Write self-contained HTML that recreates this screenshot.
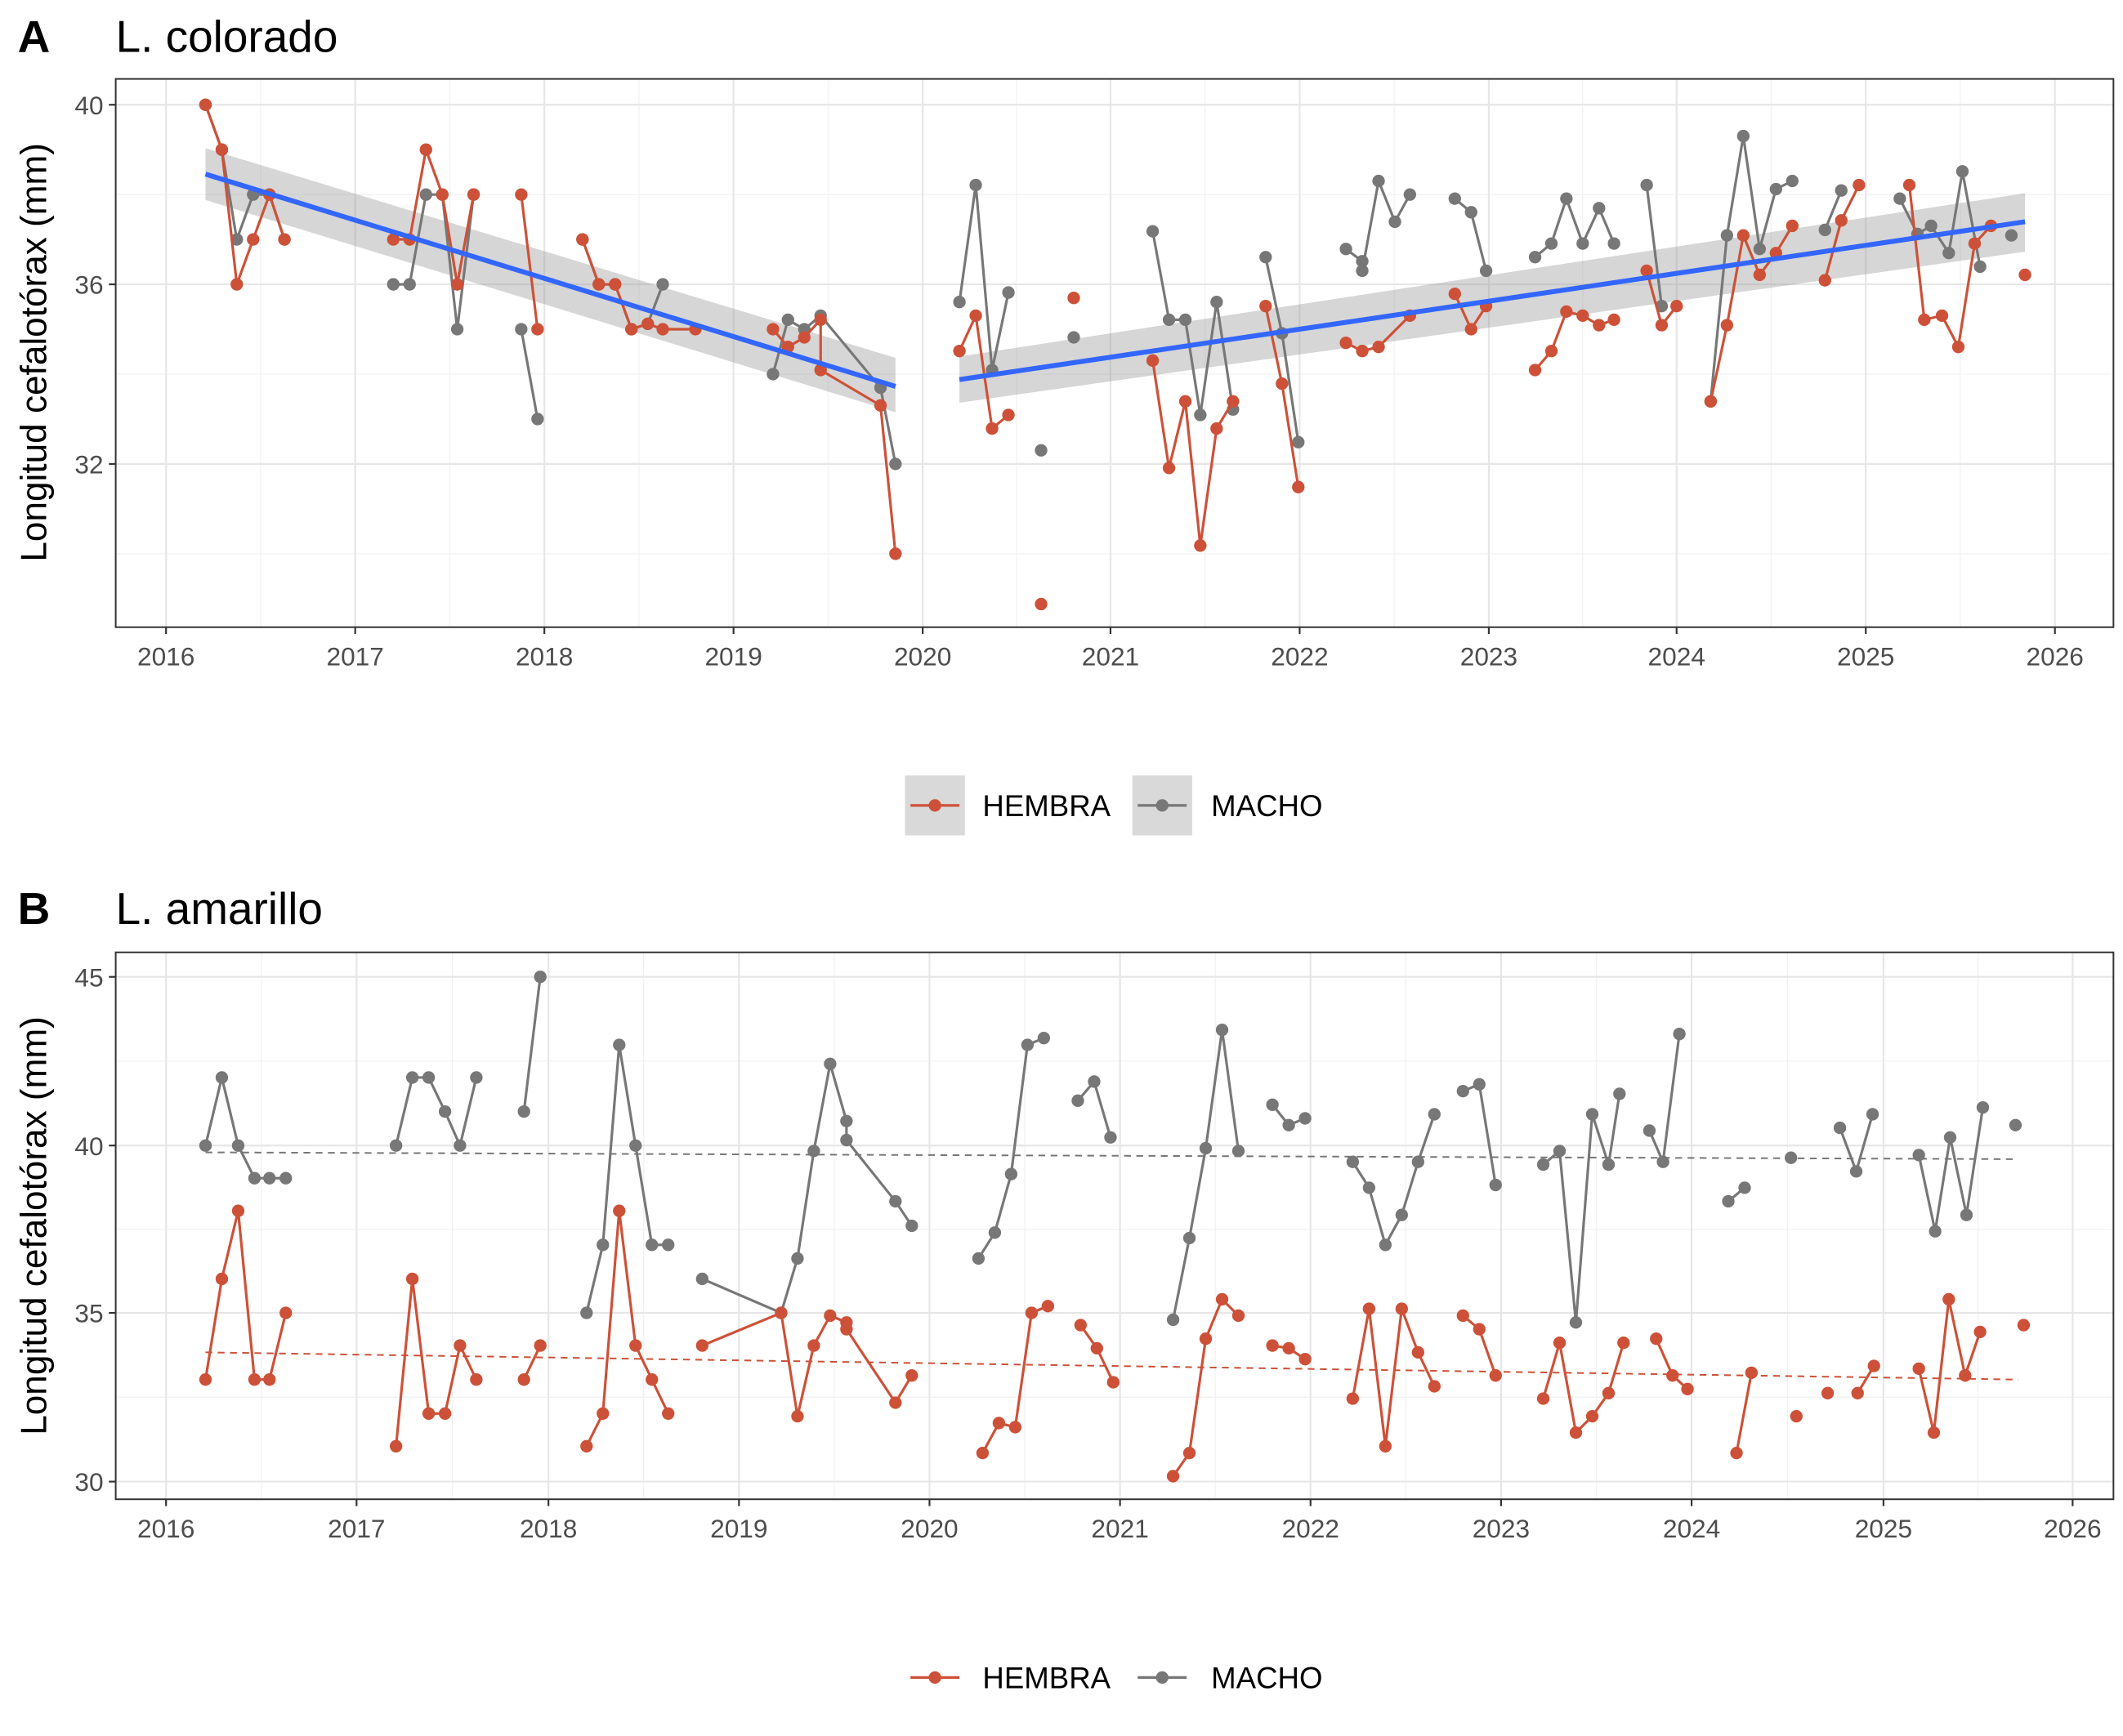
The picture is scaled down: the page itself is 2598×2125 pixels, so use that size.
<!DOCTYPE html>
<html><head><meta charset="utf-8"><style>
html,body{margin:0;padding:0;background:#fff}
svg{display:block}
text{font-family:"Liberation Sans",Arial,sans-serif}
</style></head><body>
<svg width="2598" height="2125" viewBox="0 0 1560 1276" xmlns="http://www.w3.org/2000/svg">
<defs>
<marker id="mr" viewBox="-5 -5 10 10" markerWidth="10" markerHeight="10" markerUnits="userSpaceOnUse" refX="0" refY="0"><circle r="4.6" fill="#cd5138"/></marker>
<marker id="mg" viewBox="-5 -5 10 10" markerWidth="10" markerHeight="10" markerUnits="userSpaceOnUse" refX="0" refY="0"><circle r="4.6" fill="#777"/></marker>
</defs>
<style>
.r{fill:none;stroke:#cd5138;stroke-width:1.9;marker-start:url(#mr);marker-mid:url(#mr);marker-end:url(#mr)}
.g{fill:none;stroke:#777;stroke-width:1.9;marker-start:url(#mg);marker-mid:url(#mg);marker-end:url(#mg)}
.mj{stroke:#e6e6e6;stroke-width:1.3}
.mn{stroke:#f2f2f2;stroke-width:0.8}
.tk{font-size:19px;fill:#4d4d4d}
</style>

<!-- ================= PANEL A ================= -->
<text x="13" y="38" font-size="33" font-weight="bold">A</text>
<text x="85" y="38" font-size="33">L. colorado</text>
<g>
<rect x="85" y="58" width="1468" height="403" fill="#fff"/>
<g class="mn">
<line x1="85" x2="1553" y1="143" y2="143"/><line x1="85" x2="1553" y1="275" y2="275"/><line x1="85" x2="1553" y1="407" y2="407"/>
<line y1="58" y2="461" x1="191.5" x2="191.5"/><line y1="58" y2="461" x1="330.5" x2="330.5"/><line y1="58" y2="461" x1="469.5" x2="469.5"/><line y1="58" y2="461" x1="608.5" x2="608.5"/><line y1="58" y2="461" x1="747" x2="747"/><line y1="58" y2="461" x1="885.5" x2="885.5"/><line y1="58" y2="461" x1="1024.5" x2="1024.5"/><line y1="58" y2="461" x1="1163" x2="1163"/><line y1="58" y2="461" x1="1301.5" x2="1301.5"/><line y1="58" y2="461" x1="1440.5" x2="1440.5"/>
</g>
<g class="mj">
<line x1="85" x2="1553" y1="77" y2="77"/><line x1="85" x2="1553" y1="209" y2="209"/><line x1="85" x2="1553" y1="341" y2="341"/>
<line y1="58" y2="461" x1="122" x2="122"/><line y1="58" y2="461" x1="261" x2="261"/><line y1="58" y2="461" x1="400" x2="400"/><line y1="58" y2="461" x1="539" x2="539"/><line y1="58" y2="461" x1="678" x2="678"/><line y1="58" y2="461" x1="816" x2="816"/><line y1="58" y2="461" x1="955" x2="955"/><line y1="58" y2="461" x1="1094" x2="1094"/><line y1="58" y2="461" x1="1232" x2="1232"/><line y1="58" y2="461" x1="1371" x2="1371"/><line y1="58" y2="461" x1="1510" x2="1510"/>
</g>
<polygon points="151,109 658,263 658,303 151,147" fill="#999" fill-opacity="0.4"/>
<polygon points="705,262 1488,142 1488,185 705,296" fill="#999" fill-opacity="0.4"/>
<polyline class="g" points="151,77 163,110 174,176 186,143 198,143 209,176"/>
<polyline class="g" points="289,209 301,209 313,143 325,143 336,242 348,143"/>
<polyline class="g" points="383,242 395,308"/>
<polyline class="g" points="428,176 440,209 452,209 464,242 476,238 487,209"/>
<polyline class="g" points="568,275 579,235 591,242 603,232 647,285 658,341"/>
<polyline class="g" points="705,222 717,136 729,272 741,215"/>
<circle cx="765" cy="331" r="4.6" fill="#777"/><circle cx="789" cy="248" r="4.6" fill="#777"/>
<polyline class="g" points="847,170 859,235 871,235 882,305 894,222 906,301"/>
<polyline class="g" points="930,189 942,245 954,325"/>
<polyline class="g" points="989,183 1001,192 1001,199 1013,133 1025,163 1036,143"/>
<polyline class="g" points="1069,146 1081,156 1092,199"/>
<polyline class="g" points="1128,189 1140,179 1151,146 1163,179 1175,153 1186,179"/>
<polyline class="g" points="1210,136 1221,225"/>
<polyline class="g" points="1257,295 1269,173 1281,100 1293,183 1305,139 1317,133"/>
<polyline class="g" points="1341,169 1353,140"/>
<polyline class="g" points="1396,146 1409,172 1419,166 1432,186 1442,126 1455,196"/>
<circle cx="1478" cy="173" r="4.6" fill="#777"/>
<polyline class="r" points="151,77 163,110 174,209 186,176 198,143 209,176"/>
<polyline class="r" points="289,176 301,176 313,110 325,143 336,209 348,143"/>
<polyline class="r" points="383,143 395,242"/>
<polyline class="r" points="428,176 440,209 452,209 464,242 476,238 487,242 511,242"/>
<polyline class="r" points="568,242 579,255 591,248 603,235 603,272 647,298 658,407"/>
<polyline class="r" points="705,258 717,232 729,315 741,305"/>
<circle cx="765" cy="444" r="4.6" fill="#cd5138"/><circle cx="789" cy="219" r="4.6" fill="#cd5138"/>
<polyline class="r" points="847,265 859,344 871,295 882,401 894,315 906,295"/>
<polyline class="r" points="930,225 942,282 954,358"/>
<polyline class="r" points="989,252 1001,258 1013,255 1036,232"/>
<polyline class="r" points="1069,216 1081,242 1092,225"/>
<polyline class="r" points="1128,272 1140,258 1151,229 1163,232 1175,239 1186,235"/>
<polyline class="r" points="1210,199 1221,239 1232,225"/>
<polyline class="r" points="1257,295 1269,239 1281,173 1293,202 1305,186 1317,166"/>
<polyline class="r" points="1341,206 1353,162 1366,136"/>
<polyline class="r" points="1403,136 1414,235 1427,232 1439,255 1451,179 1463,166"/>
<circle cx="1488" cy="202" r="4.6" fill="#cd5138"/>
<line x1="151" y1="128" x2="658" y2="284" stroke="#3366ff" stroke-width="3.6"/>
<line x1="705" y1="279" x2="1488" y2="163" stroke="#3366ff" stroke-width="3.6"/>
<rect x="85" y="58" width="1468" height="403" fill="none" stroke="#333" stroke-width="1.2"/>
</g>
<g class="tk" text-anchor="end">
<text x="76" y="84">40</text><text x="76" y="216">36</text><text x="76" y="348">32</text>
</g>
<g stroke="#333" stroke-width="1.3">
<line x1="80" x2="85" y1="77" y2="77"/><line x1="80" x2="85" y1="209" y2="209"/><line x1="80" x2="85" y1="341" y2="341"/>
<line y1="461" y2="466" x1="122" x2="122"/><line y1="461" y2="466" x1="261" x2="261"/><line y1="461" y2="466" x1="400" x2="400"/><line y1="461" y2="466" x1="539" x2="539"/><line y1="461" y2="466" x1="678" x2="678"/><line y1="461" y2="466" x1="816" x2="816"/><line y1="461" y2="466" x1="955" x2="955"/><line y1="461" y2="466" x1="1094" x2="1094"/><line y1="461" y2="466" x1="1232" x2="1232"/><line y1="461" y2="466" x1="1371" x2="1371"/><line y1="461" y2="466" x1="1510" x2="1510"/>
</g>
<g class="tk" text-anchor="middle">
<text x="122" y="489">2016</text><text x="261" y="489">2017</text><text x="400" y="489">2018</text><text x="539" y="489">2019</text><text x="678" y="489">2020</text><text x="816" y="489">2021</text><text x="955" y="489">2022</text><text x="1094" y="489">2023</text><text x="1232" y="489">2024</text><text x="1371" y="489">2025</text><text x="1510" y="489">2026</text>
</g>
<text transform="translate(34,259) rotate(-90)" text-anchor="middle" font-size="26.5">Longitud cefalotórax (mm)</text>
<rect x="665" y="570" width="44" height="44" fill="#d9d9d9"/>
<rect x="832" y="570" width="44" height="44" fill="#d9d9d9"/>
<line x1="669" x2="705" y1="592" y2="592" stroke="#cd5138" stroke-width="2"/><circle cx="687" cy="592" r="4.6" fill="#cd5138"/>
<line x1="836" x2="872" y1="592" y2="592" stroke="#777" stroke-width="2"/><circle cx="854" cy="592" r="4.6" fill="#777"/>
<text x="722" y="600" font-size="22">HEMBRA</text>
<text x="890" y="600" font-size="22">MACHO</text>

<!-- ================= PANEL B ================= -->
<text x="13" y="679" font-size="33" font-weight="bold">B</text>
<text x="85" y="679" font-size="33">L. amarillo</text>
<g class="mn">
<line x1="85" x2="1553" y1="780" y2="780"/><line x1="85" x2="1553" y1="903.5" y2="903.5"/><line x1="85" x2="1553" y1="1027" y2="1027"/>
<line y1="700" y2="1102" x1="192" x2="192"/><line y1="700" y2="1102" x1="332.5" x2="332.5"/><line y1="700" y2="1102" x1="473" x2="473"/><line y1="700" y2="1102" x1="613" x2="613"/><line y1="700" y2="1102" x1="753" x2="753"/><line y1="700" y2="1102" x1="893" x2="893"/><line y1="700" y2="1102" x1="1033" x2="1033"/><line y1="700" y2="1102" x1="1173" x2="1173"/><line y1="700" y2="1102" x1="1313.5" x2="1313.5"/><line y1="700" y2="1102" x1="1453.5" x2="1453.5"/>
</g>
<g class="mj">
<line x1="85" x2="1553" y1="718" y2="718"/><line x1="85" x2="1553" y1="842" y2="842"/><line x1="85" x2="1553" y1="965" y2="965"/><line x1="85" x2="1553" y1="1089" y2="1089"/>
<line y1="700" y2="1102" x1="122" x2="122"/><line y1="700" y2="1102" x1="262" x2="262"/><line y1="700" y2="1102" x1="403" x2="403"/><line y1="700" y2="1102" x1="543" x2="543"/><line y1="700" y2="1102" x1="683" x2="683"/><line y1="700" y2="1102" x1="823" x2="823"/><line y1="700" y2="1102" x1="963" x2="963"/><line y1="700" y2="1102" x1="1103" x2="1103"/><line y1="700" y2="1102" x1="1243" x2="1243"/><line y1="700" y2="1102" x1="1384" x2="1384"/><line y1="700" y2="1102" x1="1523" x2="1523"/>
</g>
<polyline class="g" points="151,842 163,792 175,842 187,866 198,866 210,866"/>
<polyline class="g" points="291,842 303,792 315,792 327,817 338,842 350,792"/>
<polyline class="g" points="385,817 397,718"/>
<polyline class="g" points="431,965 443,915 455,768 467,842 479,915 491,915"/>
<polyline class="g" points="516,940 574,965 586,925 598,846 610,782 622,824 622,838 658,883 670,901"/>
<polyline class="g" points="719,925 731,906 743,863 755,768 767,763"/>
<polyline class="g" points="792,809 804,795 816,836"/>
<polyline class="g" points="862,970 874,910 886,844 898,757 910,846"/>
<polyline class="g" points="935,812 947,827 959,822"/>
<polyline class="g" points="994,854 1006,873 1018,915 1030,893 1042,854 1054,819"/>
<polyline class="g" points="1075,802 1087,797 1099,871"/>
<polyline class="g" points="1134,856 1146,846 1158,972 1170,819 1182,856 1190,804"/>
<polyline class="g" points="1212,831 1222,854 1234,760"/>
<polyline class="g" points="1270,883 1282,873"/>
<circle cx="1316" cy="851" r="4.6" fill="#777"/>
<polyline class="g" points="1352,829 1364,861 1376,819"/>
<polyline class="g" points="1410,849 1422,905 1433,836 1445,893 1457,814"/>
<circle cx="1481" cy="827" r="4.6" fill="#777"/>
<polyline class="r" points="151,1014 163,940 175,890 187,1014 198,1014 210,965"/>
<polyline class="r" points="291,1063 303,940 315,1039 327,1039 338,989 350,1014"/>
<polyline class="r" points="385,1014 397,989"/>
<polyline class="r" points="431,1063 443,1039 455,890 467,989 479,1014 491,1039"/>
<polyline class="r" points="516,989 574,965 586,1041 598,989 610,967 622,972 622,977 658,1031 670,1011"/>
<polyline class="r" points="722,1068 734,1046 746,1049 758,965 770,960"/>
<polyline class="r" points="794,974 806,991 818,1016"/>
<polyline class="r" points="862,1085 874,1068 886,984 898,955 910,967"/>
<polyline class="r" points="935,989 947,991 959,999"/>
<polyline class="r" points="994,1028 1006,962 1018,1063 1030,962 1042,994 1054,1019"/>
<polyline class="r" points="1075,967 1087,977 1099,1011"/>
<polyline class="r" points="1134,1028 1146,987 1158,1053 1170,1041 1182,1024 1193,987"/>
<polyline class="r" points="1217,984 1229,1011 1240,1021"/>
<polyline class="r" points="1276,1068 1287,1009"/>
<circle cx="1320" cy="1041" r="4.6" fill="#cd5138"/><circle cx="1343" cy="1024" r="4.6" fill="#cd5138"/>
<polyline class="r" points="1365,1024 1377,1004"/>
<polyline class="r" points="1410,1006 1421,1053 1432,955 1444,1011 1455,979"/>
<circle cx="1487" cy="974" r="4.6" fill="#cd5138"/>
<line x1="151" y1="847" x2="1481" y2="852" stroke="#777" stroke-width="1.2" stroke-dasharray="5,4"/>
<line x1="151" y1="994" x2="1483" y2="1014" stroke="#cd5138" stroke-width="1.2" stroke-dasharray="5,4"/>
<rect x="85" y="700" width="1468" height="402" fill="none" stroke="#333" stroke-width="1.2"/>
<g class="tk" text-anchor="end">
<text x="76" y="725">45</text><text x="76" y="849">40</text><text x="76" y="972">35</text><text x="76" y="1096">30</text>
</g>
<g stroke="#333" stroke-width="1.3">
<line x1="80" x2="85" y1="718" y2="718"/><line x1="80" x2="85" y1="842" y2="842"/><line x1="80" x2="85" y1="965" y2="965"/><line x1="80" x2="85" y1="1089" y2="1089"/>
<line y1="1102" y2="1107" x1="122" x2="122"/><line y1="1102" y2="1107" x1="262" x2="262"/><line y1="1102" y2="1107" x1="403" x2="403"/><line y1="1102" y2="1107" x1="543" x2="543"/><line y1="1102" y2="1107" x1="683" x2="683"/><line y1="1102" y2="1107" x1="823" x2="823"/><line y1="1102" y2="1107" x1="963" x2="963"/><line y1="1102" y2="1107" x1="1103" x2="1103"/><line y1="1102" y2="1107" x1="1243" x2="1243"/><line y1="1102" y2="1107" x1="1384" x2="1384"/><line y1="1102" y2="1107" x1="1523" x2="1523"/>
</g>
<g class="tk" text-anchor="middle">
<text x="122" y="1130">2016</text><text x="262" y="1130">2017</text><text x="403" y="1130">2018</text><text x="543" y="1130">2019</text><text x="683" y="1130">2020</text><text x="823" y="1130">2021</text><text x="963" y="1130">2022</text><text x="1103" y="1130">2023</text><text x="1243" y="1130">2024</text><text x="1384" y="1130">2025</text><text x="1523" y="1130">2026</text>
</g>
<text transform="translate(34,901) rotate(-90)" text-anchor="middle" font-size="26.5">Longitud cefalotórax (mm)</text>
<line x1="669" x2="705" y1="1233" y2="1233" stroke="#cd5138" stroke-width="2"/><circle cx="687" cy="1233" r="4.6" fill="#cd5138"/>
<line x1="836" x2="872" y1="1233" y2="1233" stroke="#777" stroke-width="2"/><circle cx="854" cy="1233" r="4.6" fill="#777"/>
<text x="722" y="1241" font-size="22">HEMBRA</text>
<text x="890" y="1241" font-size="22">MACHO</text>
</svg>
</body></html>
